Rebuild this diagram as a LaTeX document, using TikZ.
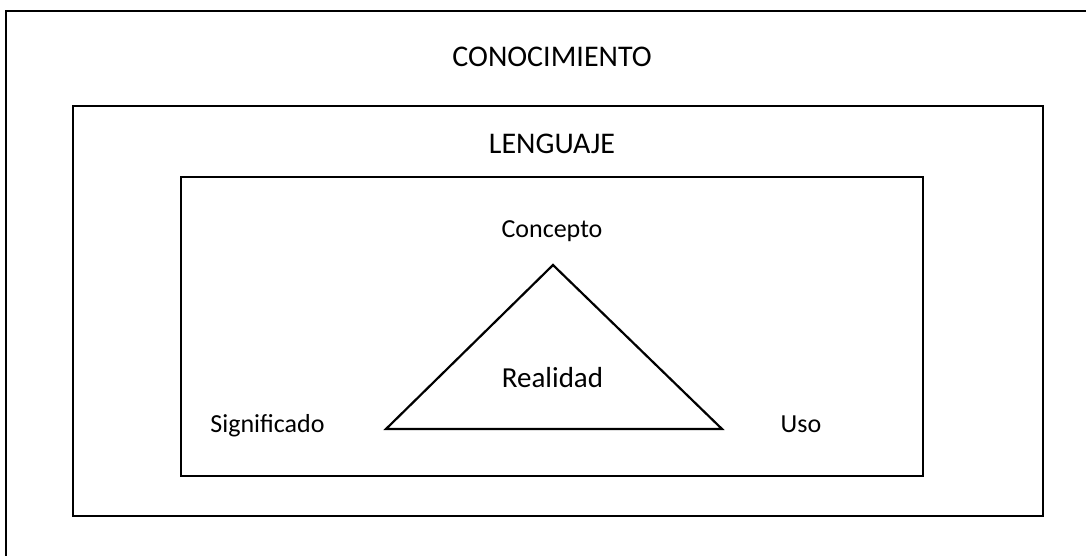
\documentclass[tikz,border=0pt]{standalone}
\usepackage{fontspec}
\setmainfont{Carlito}
\begin{document}
\begin{tikzpicture}[x=1pt,y=-1pt,
  frame/.style={draw=black,line width=2.8pt},
  tri/.style={draw=black,line width=2.2pt,line join=miter},
  bigtxt/.style={anchor=base,inner sep=0pt,font=\fontsize{30}{32}\selectfont},
  midtxt/.style={anchor=base,inner sep=0pt,font=\fontsize{29}{31}\selectfont},
  smalltxt/.style={anchor=base,inner sep=0pt,font=\fontsize{26}{28}\selectfont}]
\useasboundingbox (0,0) rectangle (1086,556);
\clip (0,0) rectangle (1086,556);
\fill[white] (0,0) rectangle (1086,556);
\draw[frame] (6,11) coordinate (o1) rectangle (1100,570) coordinate (o2);
\draw[frame] (73,106) coordinate (m1) rectangle (1043,516) coordinate (m2);
\draw[frame] (181,177) coordinate (i1) rectangle (923,476) coordinate (i2);
\coordinate (top) at (553,265);
\coordinate (bl) at (386,429);
\coordinate (br) at (722,429);
\draw[tri] (top) -- (bl) -- (br) -- cycle;
\node[bigtxt] (con) at (552,67) {CONOCIMIENTO};
\node[bigtxt] (len) at (552,154) {LENGUAJE};
\node[smalltxt] (cpt) at (552,237) {Concepto};
\node[midtxt] (rea) at (552.5,387) {Realidad};
\node[smalltxt] (sig) at (267.5,432) {Significado};
\node[smalltxt] (uso) at (801,432) {Uso};
\end{tikzpicture}
\end{document}
